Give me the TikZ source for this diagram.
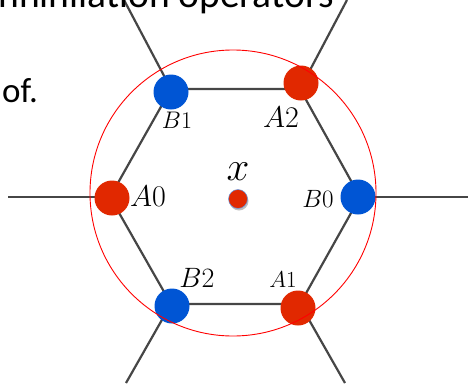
\RequirePackage{fix-cm}
\documentclass[tikz,border=0pt]{standalone}
\usepackage{fontspec}
\newfontfamily\slidefont{Carlito}
\usepackage{tikz}
\definecolor{dotblue}{RGB}{0, 85, 212}
\definecolor{dotred}{RGB}{225, 40, 0}
\definecolor{bondgray}{RGB}{70, 70, 70}

\begin{document}
\begin{tikzpicture}[
  x=1pt, y=-1pt,
  bond/.style={draw=bondgray, line width=2.2pt},
  site/.style={circle, inner sep=0pt, minimum size=35pt},
  asite/.style={site, fill=dotred},
  bsite/.style={site, fill=dotblue},
  lab/.style={inner sep=0pt},
  slide/.style={inner sep=0pt, font=\slidefont\fontsize{35}{40}\selectfont}
]
  \useasboundingbox (0,0) rectangle (468,383);
  \clip (0,0) rectangle (468,383);

  % hexagon corners and free ends
  \coordinate (vtl) at (171,89);
  \coordinate (vtr) at (300,89);
  \coordinate (vl)  at (110,197);
  \coordinate (vr)  at (360,197);
  \coordinate (vbl) at (171,304);
  \coordinate (vbr) at (300,304);
  \coordinate (etl) at (124,0);
  \coordinate (etr) at (347,0);
  \coordinate (el)  at (8,197);
  \coordinate (er)  at (468,197);
  \coordinate (ebl) at (126,383);
  \coordinate (ebr) at (345,383);

  \draw[bond] (vtl) -- (vtr) -- (vr) -- (vbr) -- (vbl) -- (vl) -- cycle;
  \draw[bond] (vtl) -- (etl);
  \draw[bond] (vtr) -- (etr);
  \draw[bond] (vl)  -- (el);
  \draw[bond] (vr)  -- (er);
  \draw[bond] (vbl) -- (ebl);
  \draw[bond] (vbr) -- (ebr);

  \node[bsite] (b1) at (171,92)  {};
  \node[asite] (a2) at (301,83)  {};
  \node[asite] (a0) at (112,198) {};
  \node[bsite] (b0) at (358,197) {};
  \node[bsite] (b2) at (172,306) {};
  \node[asite] (a1) at (298,308) {};

  \node[circle, inner sep=0pt, minimum size=19pt, fill=black!25] (xs) at (239,201) {};
  \node[circle, inner sep=0pt, minimum size=19pt, fill=dotred, draw=dotblue!60, line width=0.5pt] (xd) at (238,199) {};

  \node[circle, draw=red, line width=0.9pt, inner sep=0pt, minimum size=286pt] (ring) at (233,193) {};

  \node[lab, font=\fontsize{24}{28}\selectfont] (lb1) at (177,120) {$B1$};
  \node[lab, font=\fontsize{30}{36}\selectfont] (la2) at (281,117) {$A2$};
  \node[lab, font=\fontsize{30}{36}\selectfont] (la0) at (148,196) {$A0$};
  \node[lab, font=\fontsize{25}{30}\selectfont] (lb0) at (318,199) {$B0$};
  \node[lab, font=\fontsize{28}{33}\selectfont] (lb2) at (197,278) {$B2$};
  \node[lab, font=\fontsize{23}{27}\selectfont] (la1) at (283,280) {$A1$};
  \node[lab, font=\fontsize{41}{46}\selectfont] (lx)  at (238,172) {$x$};

  \node[slide, anchor=base east, font=\slidefont\fontsize{39.5}{44}\selectfont] (head) at (334,7) {nnihilation operators};
  \node[slide, anchor=base west] (tail) at (2,102) {of.};
\end{tikzpicture}
\end{document}
